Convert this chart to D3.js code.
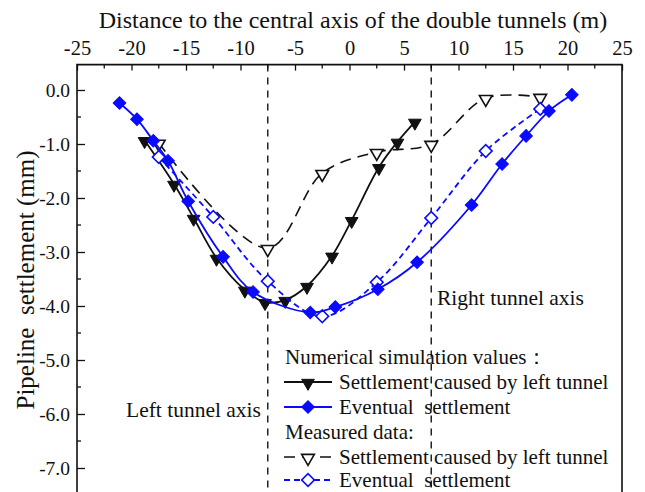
<!DOCTYPE html>
<html>
<head>
<meta charset="utf-8">
<script src="https://cdn.jsdelivr.net/npm/d3@7"></script>
<style>
  html, body { margin: 0; padding: 0; background: #fff; }
  svg { display: block; }
  text { font-family: "Liberation Serif", "Times New Roman", serif; fill: #111; }
</style>
</head>
<body>
<svg id="chart" width="645" height="492"></svg>
<script>
// Tick labels
const xTickValues = [-25, -20, -15, -10, -5, 0, 5, 10, 15, 20, 25];
const yTickValues = [0, -1, -2, -3, -4, -5, -6, -7];

// Tunnel axis positions (m)
const tunnelAxes = [-7.5, 7.5];

// Numerical simulation: settlement caused by left tunnel
const simLeftX = [-18.8, -16.1, -14.3, -12.2, -9.6, -7.75, -5.9, -3.9, -1.6, 0.2, 2.7, 4.4, 6.0];
const simLeftY = [-0.93, -1.74, -2.37, -3.11, -3.70, -3.93, -3.89, -3.63, -3.07, -2.41, -1.43, -0.96, -0.59];

// Numerical simulation: eventual settlement
const simEventX = [-21.1, -19.5, -18.0, -16.65, -14.8, -11.6, -8.85, -3.6, -1.3, 2.6, 6.2, 11.2, 14.0, 16.2, 18.3, 20.4];
const simEventY = [-0.24, -0.54, -0.94, -1.31, -2.06, -3.09, -3.74, -4.12, -4.02, -3.69, -3.19, -2.13, -1.37, -0.85, -0.39, -0.09];

// Measured data: settlement caused by left tunnel
const measLeftX = [-17.5, -7.5, -2.5, 2.5, 7.5, 12.5, 17.5];
const measLeftY = [-0.98, -2.93, -1.54, -1.15, -1.0, -0.15, -0.13];

// Measured data: eventual settlement
const measEventX = [-17.5, -12.5, -7.5, -2.5, 2.5, 7.5, 12.5, 17.5];
const measEventY = [-1.24, -2.35, -3.54, -4.19, -3.56, -2.37, -1.13, -0.35];

const BLUE = "#0a0aff";
const svg = d3.select("#chart");

const x = d3.scaleLinear().domain([-25, 25]).range([77, 622]);
const y = d3.scaleLinear().domain([0, -7]).range([90, 468]);

const frameTop = y(0.47);
const frameBottom = 500;

// Tunnel axis guides
svg.append("g").selectAll("line").data(tunnelAxes).join("line")
  .attr("x1", d => x(d)).attr("x2", d => x(d))
  .attr("y1", frameTop).attr("y2", frameBottom)
  .attr("stroke", "#222").attr("stroke-width", 1.5)
  .attr("stroke-dasharray", "7,6");

// Frame
svg.append("path")
  .attr("d", `M${x(-25)},${frameBottom}V${frameTop}H${x(25)}V${frameBottom}`)
  .attr("fill", "none").attr("stroke", "#111").attr("stroke-width", 1.6);

// Top axis (ticks inward)
const xAxis = d3.axisTop(x).tickValues(xTickValues).tickSize(-6).tickPadding(10)
  .tickFormat(d => String(d));
const gx = svg.append("g").attr("transform", `translate(0,${frameTop})`).call(xAxis);
gx.select(".domain").remove();
gx.selectAll(".tick line").attr("stroke", "#111").attr("stroke-width", 1.3);
gx.selectAll(".tick text").attr("font-size", 20.5)
  .style("font-family", "'Liberation Serif', serif").attr("fill", "#111");
const xMinor = d3.range(-22.5, 25, 5);
svg.append("g").selectAll("line").data(xMinor).join("line")
  .attr("x1", d => x(d)).attr("x2", d => x(d))
  .attr("y1", frameTop).attr("y2", frameTop + 4)
  .attr("stroke", "#111").attr("stroke-width", 1.3);

// Left axis (ticks inward)
const yAxis = d3.axisLeft(y).tickValues(yTickValues).tickSize(-8).tickPadding(7)
  .tickFormat(d => d.toFixed(1));
const gy = svg.append("g").attr("transform", `translate(${x(-25)},0)`).call(yAxis);
gy.select(".domain").remove();
gy.selectAll(".tick line").attr("stroke", "#111").attr("stroke-width", 1.3);
gy.selectAll(".tick text").attr("font-size", 19.5)
  .style("font-family", "'Liberation Serif', serif").attr("fill", "#111");
const yMinor = d3.range(-0.5, -7.6, -1);
svg.append("g").selectAll("line").data(yMinor).join("line")
  .attr("x1", x(-25)).attr("x2", x(-25) + 4)
  .attr("y1", d => y(d)).attr("y2", d => y(d))
  .attr("stroke", "#111").attr("stroke-width", 1.3);

// Axis titles
svg.append("text").attr("x", 353).attr("y", 28).attr("text-anchor", "middle")
  .attr("font-size", 24).text("Distance to the central axis of the double tunnels (m)");
svg.append("text").attr("transform", "translate(34,280) rotate(-90)")
  .attr("text-anchor", "middle").attr("font-size", 25)
  .style("white-space", "pre").text("Pipeline  settlement (mm)");

// Series
const line = d3.line().x(d => x(d[0])).y(d => y(d[1])).curve(d3.curveCatmullRom.alpha(0.5));
const zip = (a, b) => a.map((v, i) => [v, b[i]]);

const triDown = d3.symbol().type(d3.symbolTriangle).size(70)();
const diamond = d3.symbol().type(d3.symbolSquare).size(80)();

const series = [
  { pts: zip(measLeftX, measLeftY), color: "#111", dash: "11,7", width: 1.6, marker: "tri", open: true },
  { pts: zip(simLeftX, simLeftY), color: "#111", dash: null, width: 1.8, marker: "tri", open: false },
  { pts: zip(measEventX, measEventY), color: BLUE, dash: "6,4", width: 1.8, marker: "dia", open: true },
  { pts: zip(simEventX, simEventY), color: BLUE, dash: null, width: 1.8, marker: "dia", open: false }
];

function drawMarker(g, cx, cy, s) {
  const isTri = s.marker === "tri";
  g.append("path")
    .attr("d", isTri ? triDown : diamond)
    .attr("transform", `translate(${cx},${isTri ? cy + 1 : cy}) rotate(${isTri ? 180 : 45})`)
    .attr("fill", s.open ? "#fff" : s.color)
    .attr("stroke", s.color).attr("stroke-width", s.open ? 1.6 : 1);
}

series.forEach(s => {
  const g = svg.append("g");
  g.append("path").attr("d", line(s.pts))
    .attr("fill", "none").attr("stroke", s.color).attr("stroke-width", s.width)
    .attr("stroke-dasharray", s.dash);
  s.pts.forEach(p => drawMarker(g, x(p[0]), y(p[1]), s));
});

// Annotations
svg.append("text").attr("x", 437).attr("y", 305).attr("font-size", 21.5).text("Right tunnel axis");
svg.append("text").attr("x", 126).attr("y", 417).attr("font-size", 21.5).text("Left tunnel axis");

// Legend
const lg = svg.append("g");
const lx0 = 284, lx1 = 332, ltx = 339;
lg.append("text").attr("x", 285).attr("y", 364).attr("font-size", 21).text("Numerical simulation values：");
lg.append("text").attr("x", 285).attr("y", 439).attr("font-size", 21).text("Measured data:");
const legendRows = [
  { s: series[1], y: 382, label: "Settlement caused by left tunnel" },
  { s: series[3], y: 407, label: "Eventual  settlement" },
  { s: series[0], y: 457, label: "Settlement caused by left tunnel" },
  { s: series[2], y: 480, label: "Eventual  settlement" }
];
legendRows.forEach(r => {
  lg.append("line").attr("x1", lx0).attr("x2", lx1).attr("y1", r.y).attr("y2", r.y)
    .attr("stroke", r.s.color).attr("stroke-width", r.s.width)
    .attr("stroke-dasharray", r.s.dash);
  drawMarker(lg, (lx0 + lx1) / 2, r.y, r.s);
  lg.append("text").attr("x", ltx).attr("y", r.y + 7).attr("font-size", 21)
    .style("white-space", "pre").text(r.label);
});
</script>
</body>
</html>
